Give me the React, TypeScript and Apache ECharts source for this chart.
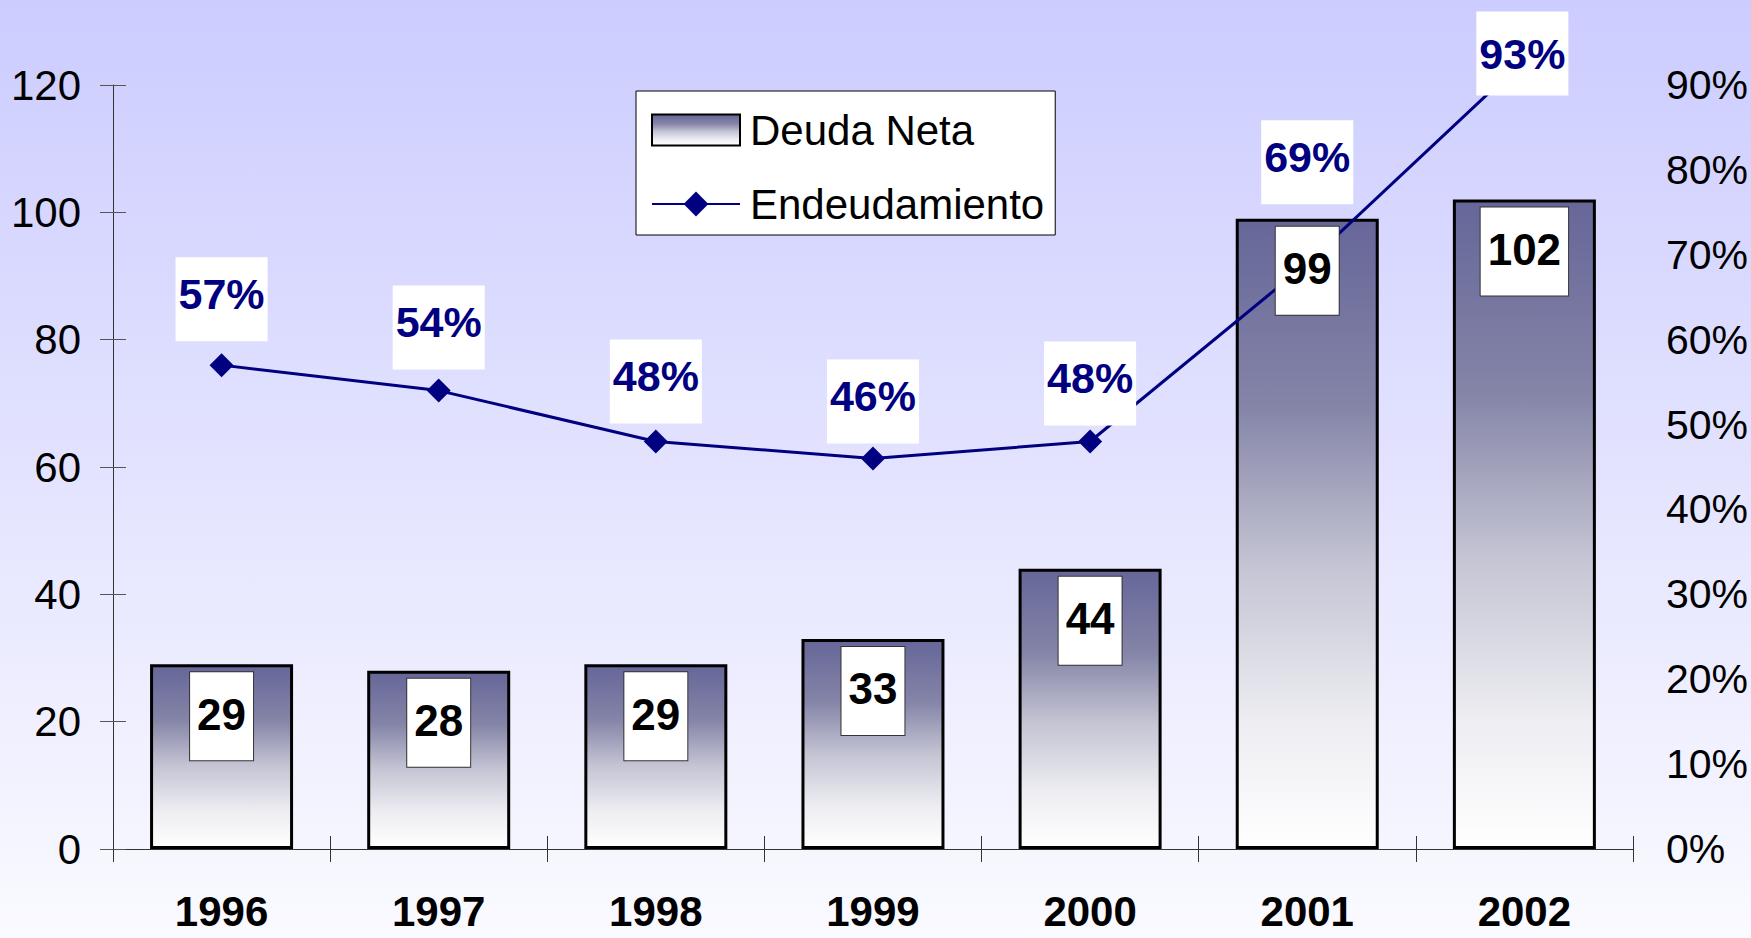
import React, { useEffect, useRef } from 'react';
import * as echarts from 'echarts';

// ---- data ----
const years = ['1996', '1997', '1998', '1999', '2000', '2001', '2002'];
const deudaNeta = [29, 28, 29, 33, 44, 99, 102];
const endeudamiento = [57, 54, 48, 46, 48, 69, 93];
const leftMin = 0;
const leftMax = 120;
const leftInterval = 20;
const rightMin = 0;
const rightMax = 90;
const rightInterval = 10;

// ---- layout of percent labels (distance above marker), last one sits on the point ----
const pctLabelDistance = [12, 9, 6, 3, 4, 47, -1];

const FONT = "'Liberation Sans', Arial, sans-serif";
const NAVY = '#000080';

export default function App() {
  const ref = useRef<HTMLDivElement>(null);

  useEffect(() => {
    if (!ref.current) return;
    const chart = echarts.init(ref.current, undefined, { renderer: 'svg' });

    const lineData = endeudamiento.map((v, i) => {
      if (pctLabelDistance[i] < 0) {
        return { value: v, label: { position: 'inside', offset: [-2, -6] } };
      }
      return { value: v, label: { distance: pctLabelDistance[i] } };
    });

    const barGradient = new echarts.graphic.LinearGradient(0, 0, 0, 1, [
      { offset: 0, color: '#666699' },
      { offset: 0.3, color: '#8585a8' },
      { offset: 0.55, color: '#c4c4d4' },
      { offset: 0.8, color: '#ededf2' },
      { offset: 1, color: '#ffffff' },
    ]);

    chart.setOption({
      animation: false,
      backgroundColor: new echarts.graphic.LinearGradient(0, 0, 0, 1, [
        { offset: 0, color: '#ccccff' },
        { offset: 1, color: '#fafaff' },
      ]),
      textStyle: { fontFamily: FONT },
      grid: { left: 113, right: 118, top: 85, bottom: 89, containLabel: false },
      legend: {
        orient: 'vertical',
        left: 636,
        top: 91,
        backgroundColor: '#ffffff',
        borderColor: '#000000',
        borderWidth: 1,
        borderRadius: 0,
        padding: [18, 11, 10, 15],
        itemWidth: 88,
        itemHeight: 31,
        itemGap: 32,
        textStyle: { fontSize: 42, lineHeight: 42, color: '#000', fontFamily: FONT, padding: [0, 0, 0, 5] },
        data: [{ name: 'Deuda Neta', icon: 'rect' }, { name: 'Endeudamiento' }],
      },
      xAxis: [
        {
          type: 'category',
          data: years,
          position: 'bottom',
          axisLine: { lineStyle: { color: '#333', width: 1 } },
          axisTick: { show: true, length: 13, lineStyle: { color: '#333' } },
          axisLabel: { fontSize: 42, fontWeight: 'bold', color: '#000', margin: 44, fontFamily: FONT, lineHeight: 36 },
        },
        {
          type: 'category',
          data: years,
          position: 'bottom',
          axisLine: { show: false },
          axisTick: { show: true, inside: true, length: 13, lineStyle: { color: '#333' } },
          axisLabel: { show: false },
        },
      ],
      yAxis: [
        {
          type: 'value',
          min: leftMin,
          max: leftMax,
          interval: leftInterval,
          position: 'left',
          axisLine: { show: true, lineStyle: { color: '#333', width: 1 } },
          axisTick: { show: true, length: 13, lineStyle: { color: '#555' } },
          splitLine: { show: false },
          axisLabel: { fontSize: 42, color: '#000', margin: 32, fontFamily: FONT },
        },
        {
          type: 'value',
          min: rightMin,
          max: rightMax,
          interval: rightInterval,
          position: 'right',
          axisLine: { show: false },
          axisTick: { show: false },
          splitLine: { show: false },
          axisLabel: { fontSize: 41, color: '#000', margin: 33, fontFamily: FONT, formatter: '{value}%' },
        },
        {
          type: 'value',
          min: leftMin,
          max: leftMax,
          interval: leftInterval,
          position: 'left',
          axisLine: { show: false },
          axisTick: { show: true, inside: true, length: 13, lineStyle: { color: '#555' } },
          splitLine: { show: false },
          axisLabel: { show: false },
        },
      ],
      series: [
        {
          name: 'Deuda Neta',
          type: 'bar',
          z: 2,
          barWidth: 143,
          barGap: '-100%',
          data: deudaNeta,
          itemStyle: { color: barGradient, borderColor: '#000', borderWidth: 3 },
        },
        {
          name: 'Endeudamiento',
          type: 'line',
          yAxisIndex: 1,
          z: 3,
          clip: false,
          data: lineData,
          symbol: 'diamond',
          symbolSize: 24,
          itemStyle: { color: NAVY },
          lineStyle: { color: NAVY, width: 3 },
          label: {
            show: true,
            position: 'top',
            formatter: '{c}%',
            color: NAVY,
            fontWeight: 'bold',
            fontSize: 43,
            lineHeight: 43,
            fontFamily: FONT,
            backgroundColor: '#ffffff',
            padding: [15, 3, 26, 3],
          },
        },
        {
          name: 'valores',
          type: 'bar',
          z: 4,
          barWidth: 143,
          barGap: '-100%',
          silent: true,
          legendHoverLink: false,
          data: deudaNeta,
          itemStyle: { color: 'rgba(0,0,0,0)' },
          label: {
            show: true,
            position: 'insideTop',
            distance: 8,
            color: '#000',
            fontWeight: 'bold',
            fontSize: 44,
            lineHeight: 44,
            fontFamily: FONT,
            backgroundColor: '#ffffff',
            borderColor: '#333',
            borderWidth: 1,
            padding: [20, 7, 24, 7],
          },
        },
      ],
    });

    return () => chart.dispose();
  }, []);

  return (
    <div
      ref={ref}
      style={{ position: 'fixed', left: 0, top: 0, width: 1751, height: 938 }}
    />
  );
}
